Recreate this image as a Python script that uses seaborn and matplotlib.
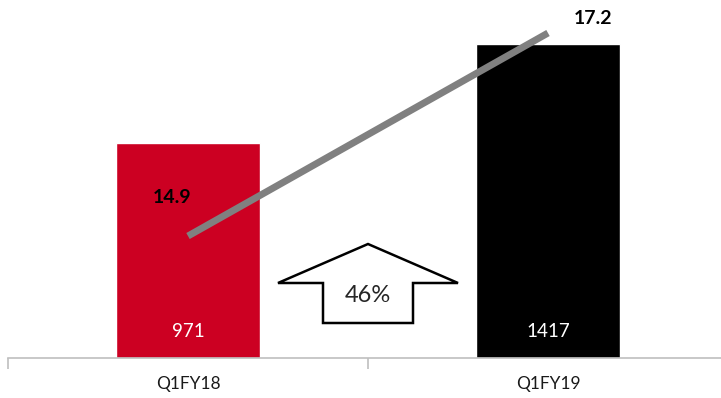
import matplotlib
matplotlib.use("Agg")
import matplotlib.pyplot as plt
import seaborn as sns
import pandas as pd
from matplotlib.patches import Polygon

quarters = ["Q1FY18", "Q1FY19"]
revenue = [971, 1417]
margin = [14.9, 17.2]
growth_label = "46%"
bar_colors = ["#cc0022", "#000000"]

sns.set_theme(style="white")
plt.rcParams["font.family"] = ["Lato", "DejaVu Sans"]

df = pd.DataFrame({"quarter": quarters, "revenue": revenue, "margin": margin})

fig = plt.figure(figsize=(7.21, 3.98), dpi=100)
ax = fig.add_axes([8 / 721, 40 / 398, 720 / 721, 358 / 398])

sns.barplot(data=df, x="quarter", y="revenue", hue="quarter", palette=bar_colors,
            order=quarters, width=0.4, legend=False, ax=ax, saturation=1)
ax.set_ylim(0, 1615)
ax.set_xlim(-0.5, 1.5)
ax.set_xlabel("")
ax.set_ylabel("")
ax.set_yticks([])
for s in ["top", "right", "left"]:
    ax.spines[s].set_visible(False)
ax.spines["bottom"].set_color("#bfbfbf")
ax.spines["bottom"].set_linewidth(1.2)
ax.set_xticks([-0.5, 0.5, 1.5], minor=True)
ax.tick_params(axis="x", which="minor", length=8, color="#bfbfbf", width=1.2, bottom=True)
ax.tick_params(axis="x", which="major", length=0, labelsize=12.5, pad=13, labelcolor="#1a1a1a")

for i, v in enumerate(revenue):
    ax.text(i, 120, f"{v}", ha="center", va="center", color="white", fontsize=13.5)

ax2 = ax.twinx()
sns.lineplot(data=df, x="quarter", y="margin", color="#808080", linewidth=5, ax=ax2,
             solid_capstyle="butt")
ax2.set_ylim(13.518, 17.574)
ax2.set_axis_off()
ax2.text(0 - 0.045, margin[0] + 0.44, f"{margin[0]}", ha="center", va="center",
         fontsize=14, fontweight="bold", color="black")
ax2.text(1 + 0.125, margin[1] + 0.17, f"{margin[1]}", ha="center", va="center",
         fontsize=14, fontweight="bold", color="black")

# block arrow showing year-on-year growth (axes-fraction coordinates)
arrow_pts = [(0.5, 114 / 358), (0.375, 75 / 358), (0.4375, 75 / 358), (0.4375, 35 / 358),
             (0.5625, 35 / 358), (0.5625, 75 / 358), (0.625, 75 / 358)]
ax.add_patch(Polygon(arrow_pts, closed=True, facecolor="white", edgecolor="black",
                     linewidth=1.8, transform=ax.transAxes, zorder=5))
ax.text(0.5, 62 / 358, growth_label, ha="center", va="center", fontsize=17,
        transform=ax.transAxes, zorder=6)

fig.savefig("out.png", dpi=100)
